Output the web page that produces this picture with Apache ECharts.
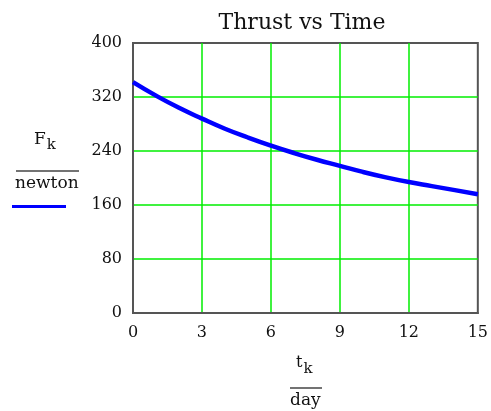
<!DOCTYPE html>
<html><head><meta charset="utf-8">
<script src="https://cdn.jsdelivr.net/npm/echarts@6/dist/echarts.min.js"></script>
<style>html,body{margin:0;padding:0;background:#fff}#c{width:491px;height:411px}</style>
</head><body><div id="c"></div>
<script>
const titleText = 'Thrust vs Time';
const tDays = [0,1,2,3,4,5,6,7,8,9,10,11,12,13,14,15];
const thrustNewton = [342,322,304,288,273,260,248,237,227,218,209,201,194,188,182,176];
const xTicks = {min:0, max:15, interval:3};
const yTicks = {min:0, max:400, interval:80};

const serif = '"DejaVu Serif","Liberation Serif",serif';
const chart = echarts.init(document.getElementById('c'), null, {renderer:'canvas'});
chart.setOption({
  animation:false,
  backgroundColor:'#fff',
  title:{text:titleText, left:297, top:7, textAlign:'center',
    textStyle:{fontFamily:serif, fontSize:22, fontWeight:'normal', color:'#111'}},
  grid:{left:133, right:13, top:43, bottom:98, show:true, borderColor:'#555', borderWidth:2, backgroundColor:'transparent'},
  legend:{show:true, left:7, top:200, icon:'rect', itemWidth:54, itemHeight:3,
    formatter:()=>'', data:['F']},
  xAxis:{type:'value', min:xTicks.min, max:xTicks.max, interval:xTicks.interval,
    axisLine:{show:true, onZero:false, lineStyle:{color:'#555', width:2}},
    axisTick:{show:false},
    axisLabel:{margin:12, fontFamily:serif, fontSize:16, color:'#111'},
    splitLine:{show:true, showMinLine:false, showMaxLine:false, lineStyle:{color:'#00ee00', width:1.5}}},
  yAxis:{type:'value', min:yTicks.min, max:yTicks.max, interval:yTicks.interval,
    axisLine:{show:true, onZero:false, lineStyle:{color:'#555', width:2}},
    axisTick:{show:false},
    axisLabel:{margin:11, fontFamily:serif, fontSize:16, color:'#111', verticalAlign:'middle', lineHeight:16, padding:[8,0,0,0]},
    splitLine:{show:true, showMinLine:false, showMaxLine:false, lineStyle:{color:'#00ee00', width:1.5}}},
  graphic:[
    {type:'text', left:34, top:131, style:{text:'F{s|k}', fontFamily:serif, fontSize:17, fill:'#111',
      rich:{s:{fontFamily:serif, fontSize:15, fill:'#111', padding:[12,0,0,1]}}}},
    {type:'line', shape:{x1:16, y1:171, x2:79, y2:171}, style:{stroke:'#444', lineWidth:1.5}},
    {type:'text', left:15, top:175, style:{text:'newton', fontFamily:serif, fontSize:17, fill:'#111'}},
    {type:'text', left:296, top:355, style:{text:'t{s|k}', fontFamily:serif, fontSize:16, fill:'#111',
      rich:{s:{fontFamily:serif, fontSize:15, fill:'#111', padding:[12,0,0,1]}}}},
    {type:'line', shape:{x1:290, y1:388, x2:322, y2:388}, style:{stroke:'#444', lineWidth:1.5}},
    {type:'text', left:290, top:392, style:{text:'day', fontFamily:serif, fontSize:17, fill:'#111'}}
  ],
  series:[{name:'F', type:'line', smooth:0.5, showSymbol:false,
    data:tDays.map((t,i)=>[t, thrustNewton[i]]),
    lineStyle:{color:'#0000ff', width:4.5}, itemStyle:{color:'#0000ff'}}]
});
</script></body></html>
